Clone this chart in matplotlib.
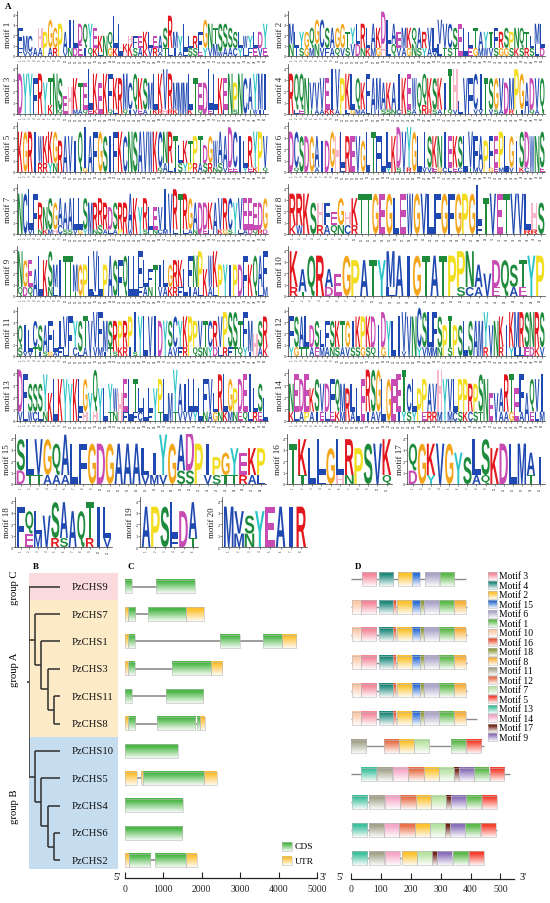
import numpy as np
import matplotlib
matplotlib.use("Agg")
import matplotlib.pyplot as plt
import matplotlib.colors as mcolors
from matplotlib.textpath import TextPath
from matplotlib.font_manager import FontProperties
from matplotlib.patches import PathPatch, Rectangle
from matplotlib.transforms import Affine2D

# ============================ DATA ============================
# Sequence logos: top letter per position, its height (0-9 scale),
# second (lower) letter per position and its height ('.' = none)
motif_top = [
    "FMCAHPGGPA ILDQYEKNQL LKHFEKLEAS RMYLLRFGNT SSSSLWYLDY",
    "MLYGQGCSAG GTYLRLAKDL AEMKQARVLV VCSELLTAYT FRSPNQTLML",
    "DYYFRYTNSE HKTELKEKFK RMCQKSMLKV RMMMLTEDLL KENPNCAYMI",
    "RQQNVVVEIV PKLQKFAMAK AIKEWQQKSK ITHLVFCITS GVDMPGADVQ",
    "KGRIWKKGRA VIQIAFGSIF KCNSAVWKCN RTLKTPTDGW AADCILRYPV",
    "DCSDGAIDGH LREVGLTFLL KDVYGLISKN IEKSLVFAPF EPLGISDWNS",
    "NCLFRNSGAA ALLSMRRRDS RRAKYRLEVI VRTRGADDKA VRCYVEEEDG",
    "RRKSHFEGHK TTGEGLEWGV LFGFGPGLTV ETVVLHS",
    "NGEALKSMIT TMGPLVLPAS FQLLFLFTIL GRKLFNPKWK PYIPDFKQAF",
    "KAQRAEGPAT YMAIGTATPP NAVDQSTYP",
    "QILCSAFLIV FYSTVVFMSR PRPIYLVIDY SCYKPPVTCR VPSSTFMHSR",
    "FSALDSLFSK TGIKPKDIDY LIVVNCSLFS PTPSLSAMYV NKIKMRSNRS",
    "DFSSSYKLKY YKLGYQYLYW HELTLLLYPL MYAILLLFVL RLGPDEILSL",
    "NEDEKSVDFQ MRLLERSGLG EETCLPPAVH YVLPPRPSNE VARTEFAQVI",
    "SLVGQALFGD GAAALIYGAD PIPGYEKP",
    "TKLLGLRPSV K",
    "QGKVGYSLSK DLMAI",
    "FQLVSAAQTI L",
    "APSLDA",
    "MVSYEAIR",
]
motif_top_h = [
    "5442567585 7756654548 8223344345 8447335764 7654433446",
    "5444567555 6445656586 5455454566 6658745444 5454554356",
    "9998976974 6766987987 8868776889 8677886798 8796987888",
    "9888667799 8887688766 6888777777 6993888887 7777987778",
    "9999667778 8799899889 9899999987 7745566466 7798867897",
    "9888877788 8888799888 8999988777 8777887777 7887788888",
    "9999657666 7777766656 6788675559 9998767667 7777777667",
    "7797553636 9999989999 9999999989 9999867",
    "8666988589 9677999798 8999864756 5666778678 7777797978",
    "8599459888 8899999998 855685699",
    "5656667567 9677888767 6679999988 6767966666 7888687567",
    "7777564666 6667777788 8999998887 7777888887 8778888888",
    "9866686999 8977697765 6797555779 6966777774 8875788565",
    "6878576677 6767999999 9896777669 9777766896 6588786778",
    "7888799999 9999659989 97456566",
    "9888888899 8",
    "6979976888 99956",
    "9557888889 7",
    "999888",
    "95489999",
]
motif_sec = [
    "FVV.A.AR.V NDEIQKL.GK .HKSAKVRAT LIALSSEYVM WAACYLFEVE",
    "NISGMNVFAQ VSVDNKMGHL QVAGNSYAVL TSTA.EGMWV SGGSKSRSLD",
    "......K.Q. .MAQEK.DQL .QIVEATKRH RK..K.Q.EF .F.S..TWIF",
    ".LE.TAAKKA .LGMAL.ISS NC.SA.RRSA TQV...VV.V SA.RTI.QA.",
    "....RRYN.. ...G...... ........QA LISYPRASRN SVEE.YEK.Q",
    ".Q...A..I. L........Y .S.R..VVEG CLEC.TMV.G EM.V.KC..E",
    "..V.NKMHCS SVGY.NSALA P.W..SFNCM .L.LAN.EF. KGS.LADQRD",
    "KW..RAQNCR .......... .......F.. ....RR.",
    "QDQ...NL.. .T...L.... ....FAN.VA KRF.IAL.AL ........LM",
    "RT..D..... .L.......S CA.E.AE..",
    "SVVTISGAFL .CLA.VMITS KRIS...... AVFR.QSNYD LRFTQYI.AK",
    "YGTTAEMANS AVSSGSQ.G. ..V..YVMMN .S......R. .R.YLLEDKV",
    "VLWCLN.... ..FH.H..TN .F.FC.F.T. .TVVVY.NAG NKMNEQLRE.",
    "KLAPAIELEK M.A..IAV.. .IYSY.ERRM .MCSKCST.. .AAG.A.ELM",
    "DTTAAA.... ....VMV.SS .VSTTRAL",
    ".T.L.HN... Q",
    "D.Y....AQ. ...T.",
    ".EM.RS..R. V",
    "...F.T",
    ".MN.....",
]
motif_sec_h = [
    "2110202201 2232221022 0132222212 2211221223 1222222222",
    "3222232222 2233222233 3222322213 2220022222 2222222232",
    "0000002010 0111110011 0111111111 1100101011 0101001111",
    "0111111111 0111110111 1101102111 1110001101 1101111110",
    "0000222200 0001000000 0000000012 2122222221 2111011101",
    "0100011010 1000000001 0101001111 1111011101 1101011001",
    "0010111121 1111012111 1011011111 0101110110 1110111111",
    "2200222222 0000000000 0000000200 0000110",
    "2220002200 0100010000 0000222022 2220222022 0000000022",
    "2100200000 0200000002 221202200",
    "2112111122 0212222121 2221000000 2222122222 2222221022",
    "2222222222 2222222020 0010022222 0200000020 0202222222",
    "2222220000 0022020022 0202202020 0222220222 2222222220",
    "2222222222 2222222200 0222222222 0222222200 0222222222",
    "3222220000 0000222033 02222222",
    "0202022000 2",
    "3020000220 00020",
    "0330220020 2",
    "000202",
    "03300000",
]

# Phylogeny / gene structure
gene_names = ['PzCHS9', 'PzCHS7', 'PzCHS1', 'PzCHS3', 'PzCHS11', 'PzCHS8',
              'PzCHS10', 'PzCHS5', 'PzCHS4', 'PzCHS6', 'PzCHS2']
tree = ('PzCHS9',
        ('PzCHS7', ('PzCHS1', ('PzCHS3', ('PzCHS11', 'PzCHS8')))),
        ('PzCHS10', ('PzCHS5', ('PzCHS4', ('PzCHS6', 'PzCHS2')))))
groups = ['group C', 'group A', 'group B']
group_rows = [(0, 0), (1, 5), (6, 10)]

cds_bp = [
    [(0, 180), (820, 1810)],
    [(80, 270), (600, 1600)],
    [(90, 270), (2480, 3000), (3600, 4080)],
    [(90, 270), (1230, 2230)],
    [(0, 180), (1060, 2040)],
    [(80, 270), (830, 1820), (1880, 1950)],
    [(0, 1370)],
    [(470, 2070)],
    [(0, 1500)],
    [(0, 1490)],
    [(100, 650), (780, 1600)],
]
utr_bp = [
    [],
    [(0, 80), (1600, 2050)],
    [(0, 90), (4080, 4450)],
    [(0, 90), (2230, 2520)],
    [],
    [(0, 80), (1950, 2080)],
    [],
    [(0, 300), (420, 470), (2070, 2400)],
    [],
    [],
    [(0, 100), (1600, 1880)],
]
bp_ticks = [0, 1000, 2000, 3000, 4000, 5000]

protein_len = [383, 389, 389, 389, 389, 422, 446, 533, 489, 489, 446]
motif_sites = [
    [(3, 37, 85), (4, 93, 141), (2, 156, 204), (15, 204, 230), (6, 247, 294), (1, 299, 346)],
    [(10, 3, 33), (3, 33, 85), (4, 93, 141), (16, 141, 151), (2, 154, 204), (15, 204, 230),
     (18, 230, 243), (6, 243, 294), (1, 294, 346), (8, 346, 383)],
    [(10, 3, 33), (3, 33, 85), (4, 93, 141), (16, 141, 151), (2, 154, 204), (15, 204, 230),
     (18, 230, 243), (6, 243, 294), (1, 294, 346), (8, 346, 383)],
    [(10, 3, 33), (3, 33, 85), (4, 93, 141), (16, 141, 151), (2, 154, 204), (15, 204, 230),
     (18, 230, 243), (6, 243, 294), (1, 294, 346), (8, 346, 383)],
    [(10, 3, 33), (3, 33, 85), (4, 93, 141), (16, 141, 151), (2, 154, 204), (15, 204, 230),
     (18, 230, 243), (6, 243, 294), (1, 294, 346), (8, 346, 383)],
    [(10, 3, 33), (3, 33, 85), (4, 93, 141), (16, 141, 151), (2, 154, 204), (15, 204, 230),
     (18, 230, 243), (6, 243, 294), (1, 294, 346), (8, 346, 383)],
    [(11, 0, 51), (12, 109, 160), (2, 160, 210), (7, 210, 262), (1, 333, 383), (5, 383, 435)],
    [(13, 33, 85), (11, 87, 138), (14, 141, 191), (12, 191, 243), (2, 243, 294), (7, 294, 346),
     (17, 346, 360), (9, 360, 411), (1, 411, 461), (5, 464, 513)],
    [(13, 3, 54), (11, 59, 112), (14, 115, 165), (12, 165, 218), (2, 218, 268), (7, 268, 318),
     (17, 318, 335), (9, 335, 385), (1, 385, 436), (5, 439, 489)],
    [(13, 3, 54), (11, 59, 112), (14, 112, 162), (12, 162, 215), (2, 215, 265), (7, 265, 315),
     (17, 315, 330), (9, 330, 381), (1, 381, 432), (5, 436, 486)],
    [(13, 3, 54), (11, 59, 112), (14, 115, 165), (2, 171, 221), (7, 221, 271), (17, 271, 288),
     (9, 288, 338), (1, 340, 391), (5, 394, 444)],
]
aa_ticks = [0, 100, 200, 300, 400, 500]
legend_order = [3, 4, 2, 15, 6, 1, 10, 16, 18, 8, 11, 12, 7, 5, 13, 14, 17, 9]
motif_colors = {
    1: '#5cb94a', 2: '#fcc22e', 3: '#f4879a', 4: '#1f8a7c', 5: '#f5412f',
    6: '#aba5c8', 7: '#b7e3a2', 8: '#f9b13a', 9: '#8a6fb9', 10: '#fcc8a6',
    11: '#a3a38b', 12: '#e8704a', 13: '#3fc19d', 14: '#f6a6c6', 15: '#2f6fd6',
    16: '#ec5534', 17: '#6d2314', 18: '#8d9a3e',
}

# ============================ STYLE ============================
W, H = 550, 904
SERIF = ['Liberation Serif', 'DejaVu Serif']
plt.rcParams['font.family'] = SERIF
fig = plt.figure(figsize=(5.5, 9.04), dpi=100)
fig.patch.set_facecolor('white')

BLUE, GREEN, MAG, RED = '#1f48b0', '#1e8b3c', '#c74bb3', '#e3171e'
ORANGE, YELLOW, CYAN, PINK = '#f3a61c', '#f2dd1f', '#2cc4c6', '#f6b7c9'
AA_COL = {}
for c in 'ACFILMVW':
    AA_COL[c] = BLUE
for c in 'NQST':
    AA_COL[c] = GREEN
for c in 'DE':
    AA_COL[c] = MAG
for c in 'KR':
    AA_COL[c] = RED
AA_COL['G'] = ORANGE
AA_COL['P'] = YELLOW
AA_COL['Y'] = CYAN
AA_COL['H'] = PINK


def px_axes(x0, y0, x1, y1):
    return fig.add_axes([x0 / W, 1 - y1 / H, (x1 - x0) / W, (y1 - y0) / H])


FP = FontProperties(family=['Liberation Sans', 'DejaVu Sans'], weight='bold')
_cache = {}


def letter_path(ch):
    if ch not in _cache:
        tp = TextPath((0, 0), ch, size=1, prop=FP)
        _cache[ch] = (tp, tp.get_extents())
    return _cache[ch]


def draw_letter(ax, ch, x, y, w, h):
    tp, bb = letter_path(ch)
    if ch == 'I':
        x = x + w * 0.33
        w = w * 0.34
    tr = Affine2D().translate(-bb.x0, -bb.y0).scale(w / bb.width, h / bb.height).translate(x, y)
    ax.add_patch(PathPatch(tr.transform_path(tp), fc=AA_COL.get(ch, '#555555'), ec='none', lw=0))


UNIT = 0.39


def draw_logo(ax, k):
    top = motif_top[k].replace(' ', '')
    th = motif_top_h[k].replace(' ', '')
    sec = motif_sec[k].replace(' ', '')
    sh = motif_sec_h[k].replace(' ', '')
    n = len(top)
    for i in range(n):
        y = 0.0
        if i < len(sec) and sec[i] != '.' and int(sh[i]) > 0:
            h = int(sh[i]) * UNIT
            draw_letter(ax, sec[i], i + 0.04, y, 0.92, h)
            y += h
        draw_letter(ax, top[i], i + 0.04, y, 0.92, int(th[i]) * UNIT)
    ax.set_xlim(-0.15, n + 0.05)
    ax.set_ylim(0, 4.35)
    for s in ['top', 'right']:
        ax.spines[s].set_visible(False)
    for s in ['left', 'bottom']:
        ax.spines[s].set_linewidth(0.5)
        ax.spines[s].set_color('#333333')
    ax.set_yticks([0, 1, 2, 3, 4])
    ax.set_yticklabels(['0', '1', '2', '3', '4'], fontsize=2.6, family='DejaVu Sans')
    ax.set_xticks(np.arange(n) + 0.5)
    ax.set_xticklabels([str(i + 1) for i in range(n)], fontsize=1.8, rotation=90,
                       family='DejaVu Sans', color='#777777')
    ax.tick_params(axis='both', length=1.2, width=0.4, pad=0.5, colors='#333333')


rows_y = [(12, 57), (65, 115), (123, 173), (185, 235), (247, 297), (308, 357),
          (370, 422), (435, 485), (498, 548)]
logo_layout = []
for k in range(14):
    r, c = divmod(k, 2)
    if c == 0:
        logo_layout.append((k, 17, 268, r, 8))
    else:
        logo_layout.append((k, 288, 545, r, 280))
logo_layout += [(14, 15, 266, 7, 7), (15, 287, 392, 7, 278), (16, 407, 545, 7, 400),
                (17, 15, 112, 8, 7), (18, 140, 198, 8, 130), (19, 222, 307, 8, 212)]

for k, x0, x1, r, lx in logo_layout:
    yt, yb = rows_y[r]
    ax = px_axes(x0, yt, x1, yb)
    draw_logo(ax, k)
    fig.text(lx / W, 1 - (yt + yb) / 2 / H, f"motif {k + 1}", rotation=90,
             ha='center', va='center', fontsize=6.5, family=SERIF, color='#222222')

fig.text(5 / W, 1 - 7 / H, 'A', fontsize=6.5, fontweight='bold', family=SERIF, va='center')
for lab, x in [('B', 33), ('C', 127), ('D', 355)]:
    fig.text(x / W, 1 - 567 / H, lab, fontsize=6.5, fontweight='bold', family=SERIF, va='center')

# ============================ B: tree ============================
ROW_TOP, ROW_BOT = 574, 875
axT = px_axes(29, ROW_TOP, 118, ROW_BOT)
axT.set_xlim(0, 89 / 6.2)
axT.set_ylim(-10.5, 0.5)
axT.axis('off')
band_cols = ['#fadadd', '#fdebc8', '#c6ddf0']
band_ext = [(0.5, -0.5), (-0.5, -5.5), (-5.5, -10.32)]
for (a, b), col in zip(band_ext, band_cols):
    axT.add_patch(Rectangle((0, b), 89 / 6.2, a - b, fc=col, ec='none', zorder=0))

LEAF_X = 5
TREE_KW = dict(color='#2e2e2e', lw=1.1, solid_capstyle='butt', zorder=2)


def draw_node(node, depth):
    if isinstance(node, str):
        return -gene_names.index(node)
    info = []
    for ch in node:
        yc = draw_node(ch, depth + 1)
        xc = LEAF_X if isinstance(ch, str) else depth + 1
        info.append((xc, yc))
    ys = [v[1] for v in info]
    axT.plot([depth, depth], [min(ys), max(ys)], **TREE_KW)
    for xc, yc in info:
        axT.plot([depth, xc], [yc, yc], **TREE_KW)
    return (max(ys) + min(ys)) / 2


yroot = draw_node(tree, 0)
axT.plot([-0.35, 0], [yroot, yroot], clip_on=False, **TREE_KW)
for i, g in enumerate(gene_names):
    axT.text(6.9, -i, g, fontsize=7.7, va='center', ha='left', family=SERIF, color='#111111')
for g, (r0, r1) in zip(groups, group_rows):
    axT.text(-2.3, -(r0 + r1) / 2, g, rotation=90, fontsize=7.7, ha='center', va='center',
             family=SERIF, clip_on=False)


# ============================ helpers ============================
def grad_img(color, n=40):
    # row 0 = bottom (origin='lower'): nearly white; last row = top: full colour
    c = np.array(mcolors.to_rgb(color))
    t = np.linspace(1, 0, n)[:, None]          # distance from top
    f = np.clip((t - 0.18) / 0.82, 0, 1) * 0.93
    img = c[None, :] * (1 - f) + f
    return img[:, None, :]


def grad_box(ax, x0, x1, yc, hh, color, z=3):
    ax.imshow(grad_img(color), extent=(x0, x1, yc - hh, yc + hh), aspect='auto',
              origin='lower', interpolation='bilinear', zorder=z)
    ax.add_patch(Rectangle((x0, yc - hh), x1 - x0, 2 * hh, fill=False, ec='#b8b8b8',
                           lw=0.4, zorder=z + 0.1))


def style_scale(ax, ticks, pad_out):
    for s in ['top', 'right', 'left']:
        ax.spines[s].set_visible(False)
    ax.spines['bottom'].set_position(('outward', pad_out))
    ax.spines['bottom'].set_linewidth(0.9)
    ax.spines['bottom'].set_color('#222222')
    ax.set_yticks([])
    ax.set_xticks(ticks)
    ax.set_xticklabels([str(t) for t in ticks], fontsize=7, family=SERIF)
    ax.tick_params(axis='x', direction='in', length=4, width=0.8, pad=4, colors='#222222')
    ax.patch.set_alpha(0)


# ============================ C: gene structure ============================
CDS_COL, UTR_COL = '#4cb848', '#fdc02f'
axC = px_axes(125, ROW_TOP, 317, ROW_BOT)
HH = 0.245
for i in range(len(gene_names)):
    feats = cds_bp[i] + utr_bp[i]
    lo = min(f[0] for f in feats)
    hi = max(f[1] for f in feats)
    axC.plot([lo, hi], [-i, -i], color='#8c8c8c', lw=1.2, zorder=1, solid_capstyle='butt')
    for s, e in cds_bp[i]:
        grad_box(axC, s, e, -i, HH, CDS_COL)
    for s, e in utr_bp[i]:
        grad_box(axC, s, e, -i, HH, UTR_COL)
axC.set_xlim(0, 5000)
axC.set_ylim(-10.5, 0.5)
style_scale(axC, bp_ticks, 3)
fig.text(117 / W, 1 - 878 / H, "5'", fontsize=7.5, family=SERIF, ha='center', va='center')
fig.text(323 / W, 1 - 878 / H, "3'", fontsize=7.5, family=SERIF, ha='center', va='center')

axCL = px_axes(280, 838, 330, 870)
for j, (lab, col) in enumerate([('CDS', CDS_COL), ('UTR', UTR_COL)]):
    grad_box(axCL, 282, 292, -j * 1.0 - 0.05, 0.3, col)
    axCL.text(295, -j * 1.0 - 0.05, lab, fontsize=6.8, va='center', ha='left', family=SERIF)
axCL.set_xlim(280, 330)
axCL.set_ylim(-1.6, 0.6)
axCL.axis('off')

# ============================ D: motif positions ============================
axD = px_axes(351, 566, 351 + 545 * 0.299, 873)
for i in range(len(gene_names)):
    axD.plot([0, protein_len[i]], [-i, -i], color='#8c8c8c', lw=1.0, zorder=1,
             solid_capstyle='butt')
    for m, s, e in motif_sites[i]:
        grad_box(axD, s, e, -i, 0.24, motif_colors[m])
axD.set_xlim(0, 545)
axD.set_ylim(-10.5, 0.5)
style_scale(axD, aa_ticks, 5)
fig.text(340 / W, 1 - 878 / H, "5'", fontsize=7.5, family=SERIF, ha='center', va='center')
fig.text(523 / W, 1 - 878 / H, "3'", fontsize=7.5, family=SERIF, ha='center', va='center')

axL = px_axes(486, 572, 550, 743)
n_leg = len(legend_order)
for j, m in enumerate(legend_order):
    grad_box(axL, 2, 11, -j, 0.42, motif_colors[m])
    axL.text(13, -j, f"Motif {m}", fontsize=6.9, va='center', ha='left', family=SERIF)
axL.set_xlim(0, 64)
axL.set_ylim(-n_leg + 0.5, 0.5)
axL.axis('off')

fig.savefig('out.png', dpi=100, facecolor='white')
